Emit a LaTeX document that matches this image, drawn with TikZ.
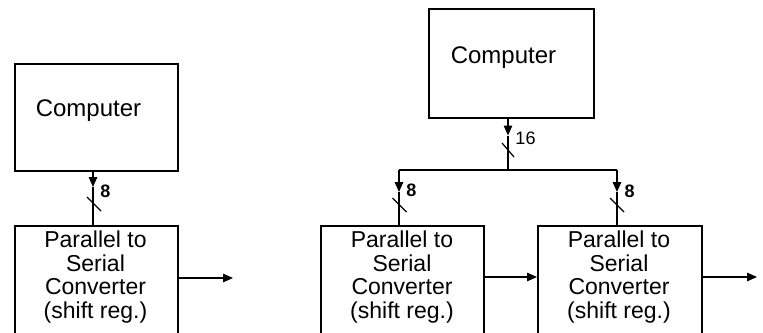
\documentclass[tikz,border=0pt]{standalone}
\usepackage{fontspec}
\setmainfont{Liberation Sans}
\usetikzlibrary{arrows.meta}
\begin{document}
\begin{tikzpicture}[x=1pt,y=-1pt,
  blk/.style={draw, line width=1.8pt, minimum width=163pt, inner sep=0pt, anchor=north west},
  wire/.style={line width=1.4pt},
  arr/.style={wire, -{Triangle[length=10pt,width=8.5pt]}},
  slash/.style={line width=1.2pt},
  ctext/.style={font=\fontsize{24}{26}\selectfont, inner sep=0pt, anchor=base},
  lbl/.style={font=\fontsize{23}{23.4}\selectfont, align=center, inner sep=0pt, anchor=north},
  num/.style={font=\fontsize{18}{20}\selectfont, inner sep=0pt}]
\clip (0,0) rectangle (763,332);

% ---- single converter ----
\node[blk, minimum height=107pt] (comp1) at (14,63) {};
\node[ctext] (comp1t) at (88.5,116) {Computer};
\node[blk, minimum height=140pt] (conv1) at (14,225) {};
\node[lbl] (conv1t) at (95.5,231) {Parallel to\\Serial\\Converter\\(shift reg.)};

\coordinate (tip1) at (93,187);
\draw[arr] (comp1.south -| tip1) -- (tip1);
\draw[wire] (tip1) -- (conv1.north -| tip1);
\coordinate (sl1) at (94,204);
\draw[slash] ([shift={(-7pt,7pt)}]sl1) -- ([shift={(7pt,-7pt)}]sl1);
\node[num] (n1) at (105.5,191) {\textbf{8}};

\coordinate (out1) at (233,278);
\draw[arr] (conv1.north east |- out1) -- (out1);

% ---- two converters in series ----
\node[blk, minimum width=165pt, minimum height=109pt] (comp2) at (428,8) {};
\node[ctext] (comp2t) at (503.5,63) {Computer};

\coordinate (tip0) at (508,135.5);
\coordinate (bus) at (508,170);
\draw[arr] (comp2.south -| tip0) -- (tip0);
\draw[wire] (tip0) -- (bus);
\coordinate (sl0) at (508,150);
\draw[slash] ([shift={(-6pt,7pt)}]sl0) -- ([shift={(6pt,-7pt)}]sl0);
\node[num] (n0) at (525.5,138) {16};

\coordinate (busL) at (399,170);
\coordinate (busR) at (617,170);
\draw[wire] (busL) -- (busR);

\node[blk, minimum height=140pt] (conv2) at (320,225) {};
\node[lbl] (conv2t) at (402,231) {Parallel to\\Serial\\Converter\\(shift reg.)};
\node[blk, minimum width=164pt, minimum height=140pt] (conv3) at (537,225) {};
\node[lbl] (conv3t) at (619,231) {Parallel to\\Serial\\Converter\\(shift reg.)};

\coordinate (tip2) at (399,192);
\draw[arr] (busL) -- (tip2);
\draw[wire] (tip2) -- (conv2.north -| tip2);
\coordinate (sl2) at (399.5,205);
\draw[slash] ([shift={(-7pt,7pt)}]sl2) -- ([shift={(7pt,-7pt)}]sl2);
\node[num] (n2) at (411.5,190.5) {\textbf{8}};

\coordinate (tip3) at (617,192);
\draw[arr] (busR) -- (tip3);
\draw[wire] (tip3) -- (conv3.north -| tip3);
\coordinate (sl3) at (617,205);
\draw[slash] ([shift={(-7pt,7pt)}]sl3) -- ([shift={(7pt,-7pt)}]sl3);
\node[num] (n3) at (629.5,191) {\textbf{8}};

\draw[arr] ([yshift=-52pt]conv2.north east) -- ([yshift=-52pt]conv3.north west);
\coordinate (out3) at (757,277);
\draw[arr] (conv3.north east |- out3) -- (out3);
\end{tikzpicture}
\end{document}
